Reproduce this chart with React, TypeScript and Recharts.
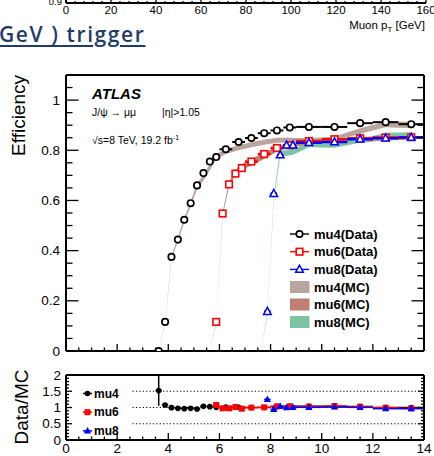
import React from "react";
import { ComposedChart, Area, Scatter, ErrorBar, XAxis, YAxis, ReferenceLine } from "recharts";

const FONT = "'Liberation Sans', Arial, Helvetica, sans-serif";

// ---- efficiency, data points (bin centres, efficiency, half bin width)
const mu4X = [3.625, 3.875, 4.125, 4.375, 4.625, 4.875, 5.125, 5.375, 5.625, 5.875, 6.25, 6.75, 7.25, 7.75, 8.25, 8.75, 9.5, 10.5, 11.5, 12.5, 13.5];
const mu4Eff = [0.0, 0.116, 0.375, 0.444, 0.523, 0.589, 0.66, 0.709, 0.755, 0.773, 0.804, 0.833, 0.849, 0.868, 0.879, 0.891, 0.893, 0.893, 0.908, 0.912, 0.904];
const mu4Half = [0.125, 0.125, 0.125, 0.125, 0.125, 0.125, 0.125, 0.125, 0.125, 0.125, 0.25, 0.25, 0.25, 0.25, 0.25, 0.25, 0.5, 0.5, 0.5, 0.5, 0.5];

const mu6X = [5.875, 6.125, 6.375, 6.625, 6.875, 7.25, 7.75, 8.25, 8.75, 9.5, 10.5, 11.5, 12.5, 13.5];
const mu6Eff = [0.116, 0.548, 0.664, 0.707, 0.729, 0.755, 0.785, 0.809, 0.82, 0.837, 0.844, 0.848, 0.851, 0.852];
const mu6Half = [0.125, 0.125, 0.125, 0.125, 0.125, 0.25, 0.25, 0.25, 0.25, 0.5, 0.5, 0.5, 0.5, 0.5];

const mu8X = [7.875, 8.125, 8.375, 8.625, 8.875, 9.5, 10.5, 11.5, 12.5, 13.5];
const mu8Eff = [0.157, 0.627, 0.781, 0.82, 0.82, 0.83, 0.833, 0.844, 0.848, 0.851];
const mu8Half = [0.125, 0.125, 0.125, 0.125, 0.125, 0.5, 0.5, 0.5, 0.5, 0.5];

// ---- MC bands (low / high edge)
const mu4McX = [3.625, 3.875, 4.125, 4.375, 4.625, 4.875, 5.125, 5.375, 5.625, 5.875, 6.25, 6.75, 7.25, 7.75, 8.25, 8.75, 9.5, 10.5, 11.5, 12.5, 13.5];
const mu4McLo = [0, 0.107, 0.366, 0.437, 0.512, 0.577, 0.645, 0.68, 0.72, 0.765, 0.785, 0.8, 0.812, 0.822, 0.83, 0.832, 0.832, 0.838, 0.866, 0.892, 0.888];
const mu4McHi = [0.002, 0.113, 0.38, 0.453, 0.53, 0.595, 0.67, 0.7, 0.745, 0.785, 0.805, 0.82, 0.832, 0.842, 0.85, 0.85, 0.848, 0.855, 0.888, 0.915, 0.914];

const mu6McX = [5.625, 5.875, 6.125, 6.375, 6.625, 6.875, 7.25, 7.75, 8.25, 8.75, 9.5, 10.5, 11.5, 12.5, 13.5];
const mu6McLo = [0, 0.108, 0.54, 0.655, 0.7, 0.72, 0.74, 0.765, 0.795, 0.812, 0.822, 0.826, 0.83, 0.84, 0.842];
const mu6McHi = [0.002, 0.113, 0.553, 0.675, 0.72, 0.745, 0.765, 0.79, 0.815, 0.83, 0.838, 0.842, 0.846, 0.858, 0.858];

const mu8McX = [7.625, 7.875, 8.125, 8.375, 8.625, 8.875, 9.5, 10.5, 11.5, 12.5, 13.5];
const mu8McLo = [0, 0.14, 0.603, 0.775, 0.778, 0.782, 0.812, 0.81, 0.83, 0.848, 0.852];
const mu8McHi = [0.002, 0.15, 0.622, 0.8, 0.8, 0.805, 0.83, 0.832, 0.845, 0.87, 0.872];

// ---- Data/MC ratio
const mu4Ratio = [1.52, 1.077, 0.995, 0.974, 0.964, 0.974, 0.954, 1.036, 1.026, 1.005, 1.015, 1.005, 1.0, 1.0, 1.03, 1.04, 1.04, 1.03, 1.03, 1.0, 1.0];
const mu4RatioErrLo = [0.47, 0, 0, 0, 0, 0, 0, 0, 0, 0, 0, 0, 0, 0, 0, 0, 0, 0, 0, 0, 0];
const mu4RatioErrHi = [0.46, 0, 0, 0, 0, 0, 0, 0, 0, 0, 0, 0, 0, 0, 0, 0, 0, 0, 0, 0, 0];
const mu6Ratio = [1.077, 0.974, 0.974, 1.015, 0.964, 0.995, 1.005, 1.036, 1.036, 1.026, 1.046, 1.026, 0.995, 0.974];
const mu8Ratio = [1.25, 0.944, 1.036, 0.995, 1.005, 1.005, 1.015, 1.005, 0.964, 0.964];

// ---- ticks
const xMajor = [0, 2, 4, 6, 8, 10, 12, 14];
const effMajor = [0, 0.2, 0.4, 0.6, 0.8, 1];
const ratioMajor = [0, 0.5, 1, 1.5, 2];
const ratioGrid = [0.5, 1, 1.5];
const topMajor = [0, 20, 40, 60, 80, 100, 120, 140, 160];

const range = (a: number, b: number, s: number) => {
  const out: number[] = [];
  for (let v = a; v <= b + 1e-9; v += s) out.push(Math.round(v * 1000) / 1000);
  return out;
};
const xTicks = range(0, 14, 0.5);
const effTicks = range(0, 1.1, 0.05);
const ratioTicks = range(0, 2, 0.1);
const topTicks = range(0, 160, 4);

const pts = (xs: number[], ys: number[], half: number[]) => xs.map((x, i) => ({ x, y: ys[i], ex: half[i] }));
const band = (xs: number[], lo: number[], hi: number[]) => xs.map((x, i) => ({ x, range: [lo[i], hi[i]] }));

const mu4Data = pts(mu4X, mu4Eff, mu4Half);
const mu6Data = pts(mu6X, mu6Eff, mu6Half);
const mu8Data = pts(mu8X, mu8Eff, mu8Half);
const mu4Mc = band(mu4McX, mu4McLo, mu4McHi);
const mu6Mc = band(mu6McX, mu6McLo, mu6McHi);
const mu8Mc = band(mu8McX, mu8McLo, mu8McHi);
const mu4R = mu4X.map((x, i) => ({ x, y: mu4Ratio[i], ex: mu4Half[i], ey: [mu4RatioErrLo[i], mu4RatioErrHi[i]] }));
const mu6R = pts(mu6X, mu6Ratio, mu6Half);
const mu8R = pts(mu8X, mu8Ratio, mu8Half);

const C4 = "#b9a59d";
const C6 = "#c17f74";
const C8 = "#7fc4a2";

const fmt = (v: number) => String(Number(v.toFixed(2)));

type TickOpts = {
  side: "left" | "right" | "top" | "bottom";
  major: number[];
  len: [number, number];
  label?: boolean;
  fontSize?: number;
  gap?: number;
};

const makeTick = (o: TickOpts) => (props: any) => {
  const { x, y, payload } = props;
  const v = payload.value;
  const isMajor = o.major.some((m) => Math.abs(m - v) < 1e-6);
  const L = isMajor ? o.len[0] : o.len[1];
  let line = null;
  if (o.side === "left") line = <line x1={x} x2={x + L} y1={y} y2={y} />;
  if (o.side === "right") line = <line x1={x} x2={x - L} y1={y} y2={y} />;
  if (o.side === "top") line = <line x1={x} x2={x} y1={y} y2={y + L} />;
  if (o.side === "bottom") line = <line x1={x} x2={x} y1={y} y2={y - L} />;
  const gap = o.gap ?? 6;
  const fs = o.fontSize ?? 13;
  let label = null;
  if (o.label && isMajor) {
    if (o.side === "left")
      label = (
        <text x={x - gap} y={y} textAnchor="end" dominantBaseline="central" fontSize={fs} fill="#000" stroke="none" fontFamily={FONT}>
          {fmt(v)}
        </text>
      );
    if (o.side === "bottom")
      label = (
        <text x={x} y={y + gap} textAnchor="middle" dominantBaseline="hanging" fontSize={fs} fill="#000" stroke="none" fontFamily={FONT}>
          {fmt(v)}
        </text>
      );
  }
  return (
    <g stroke="#000" strokeWidth={1.3}>
      {line}
      {label}
    </g>
  );
};

const frame = { stroke: "#000", strokeWidth: 2 };

const OpenCircle = (p: any) => <circle cx={p.cx} cy={p.cy} r={3.2} fill="#fff" stroke="#000" strokeWidth={1.7} />;
const OpenSquare = (p: any) => <rect x={p.cx - 3.3} y={p.cy - 3.3} width={6.6} height={6.6} fill="#fff" stroke="#f00" strokeWidth={1.6} />;
const OpenTri = (p: any) => (
  <polygon points={`${p.cx},${p.cy - 4.2} ${p.cx - 3.8},${p.cy + 2.8} ${p.cx + 3.8},${p.cy + 2.8}`} fill="#fff" stroke="#00f" strokeWidth={1.5} />
);
const FullCircle = (p: any) => <circle cx={p.cx} cy={p.cy} r={2.8} fill="#000" />;
const FullSquare = (p: any) => <rect x={p.cx - 3} y={p.cy - 3} width={6} height={6} fill="#f00" />;
const FullTri = (p: any) => <polygon points={`${p.cx},${p.cy - 4} ${p.cx - 3.6},${p.cy + 2.6} ${p.cx + 3.6},${p.cy + 2.6}`} fill="#00f" />;

function TopStrip() {
  return (
    <ComposedChart width={434} height={22} margin={{ top: 0, right: 8, bottom: 0, left: 26 }} style={{ position: "absolute", left: 0, top: 0 }}>
      <XAxis
        type="number"
        dataKey="x"
        domain={[0, 160]}
        ticks={topTicks}
        interval={0}
        height={19}
        tickSize={0}
        tickMargin={0}
        tickLine={false}
        axisLine={frame}
        allowDataOverflow
        tick={makeTick({ side: "bottom", major: topMajor, len: [4, 2], label: true, fontSize: 11.5, gap: 3 })}
      />
      <YAxis
        type="number"
        domain={[0.9, 1]}
        width={40}
        axisLine={frame}
        tick={false}
        tickLine={false}
        allowDataOverflow
      />
    </ComposedChart>
  );
}

function MainChart() {
  return (
    <ComposedChart width={434} height={362} margin={{ top: 70, right: 0, bottom: 6, left: 26 }} style={{ position: "absolute", left: 0, top: 0 }}>
      <XAxis type="number" dataKey="x" domain={[0, 14]} ticks={xTicks} interval={0} height={5} tickSize={0} tickMargin={0} tickLine={false} axisLine={frame} allowDataOverflow
        tick={makeTick({ side: "bottom", major: xMajor, len: [7, 3.5] })} />
      <XAxis xAxisId="t" orientation="top" type="number" domain={[0, 14]} ticks={xTicks} interval={0} height={5} tickSize={0} tickMargin={0} tickLine={false} axisLine={frame} allowDataOverflow
        tick={makeTick({ side: "top", major: xMajor, len: [7, 3.5] })} />
      <YAxis type="number" domain={[0, 1.1]} ticks={effTicks} interval={0} width={40} tickSize={0} tickMargin={0} tickLine={false} axisLine={frame} allowDataOverflow
        tick={makeTick({ side: "left", major: effMajor, len: [12.5, 6.5], label: true, fontSize: 13.5, gap: 6 })} />
      <YAxis yAxisId="r" orientation="right" type="number" domain={[0, 1.1]} ticks={effTicks} interval={0} width={10} tickSize={0} tickMargin={0} tickLine={false} axisLine={frame} allowDataOverflow
        tick={makeTick({ side: "right", major: effMajor, len: [12.5, 6.5] })} />

      <Area data={mu4Mc} dataKey="range" type="linear" fill={C4} fillOpacity={1} stroke="none" isAnimationActive={false} />
      <Area data={mu6Mc} dataKey="range" type="linear" fill={C6} fillOpacity={1} stroke="none" isAnimationActive={false} />
      <Area data={mu8Mc} dataKey="range" type="linear" fill={C8} fillOpacity={1} stroke="none" isAnimationActive={false} />

      <Scatter data={mu4Data} dataKey="y" shape={OpenCircle} isAnimationActive={false}>
        <ErrorBar dataKey="ex" direction="x" width={0} stroke="#000" strokeWidth={2} />
      </Scatter>
      <Scatter data={mu6Data} dataKey="y" shape={OpenSquare} isAnimationActive={false}>
        <ErrorBar dataKey="ex" direction="x" width={0} stroke="#f00" strokeWidth={2.5} />
      </Scatter>
      <Scatter data={mu8Data} dataKey="y" shape={OpenTri} isAnimationActive={false}>
        <ErrorBar dataKey="ex" direction="x" width={0} stroke="#00f" strokeWidth={2.5} />
      </Scatter>
    </ComposedChart>
  );
}

function RatioChart() {
  return (
    <ComposedChart width={434} height={96} margin={{ top: 10, right: 0, bottom: 0, left: 26 }} style={{ position: "absolute", left: 0, top: 360 }}>
      <XAxis type="number" dataKey="x" domain={[0, 14]} ticks={xTicks} interval={0} height={16} tickSize={0} tickMargin={0} tickLine={false} axisLine={frame} allowDataOverflow
        tick={makeTick({ side: "bottom", major: xMajor, len: [7, 3.5], label: true, fontSize: 13.5, gap: 3 })} />
      <XAxis xAxisId="t" orientation="top" type="number" domain={[0, 14]} ticks={xTicks} interval={0} height={5} tickSize={0} tickMargin={0} tickLine={false} axisLine={frame} allowDataOverflow
        tick={makeTick({ side: "top", major: xMajor, len: [7, 3.5] })} />
      <YAxis type="number" domain={[0, 2]} ticks={ratioTicks} interval={0} width={40} tickSize={0} tickMargin={0} tickLine={false} axisLine={frame} allowDataOverflow
        tick={makeTick({ side: "left", major: ratioMajor, len: [6, 3], label: true, fontSize: 13.5, gap: 5 })} />
      <YAxis yAxisId="r" orientation="right" type="number" domain={[0, 2]} ticks={ratioTicks} interval={0} width={10} tickSize={0} tickMargin={0} tickLine={false} axisLine={frame} allowDataOverflow
        tick={makeTick({ side: "right", major: ratioMajor, len: [6, 3] })} />

      {ratioGrid.map((g) => (
        <ReferenceLine key={g} segment={[{ x: 2.6, y: g }, { x: 14, y: g }]} stroke="#000" strokeWidth={1} strokeDasharray="1.2 2.2" ifOverflow="visible" />
      ))}

      <Scatter data={mu4R} dataKey="y" shape={FullCircle} isAnimationActive={false}>
        <ErrorBar dataKey="ex" direction="x" width={0} stroke="#000" strokeWidth={1.5} />
        <ErrorBar dataKey="ey" direction="y" width={0} stroke="#000" strokeWidth={1.5} />
      </Scatter>
      <Scatter data={mu6R} dataKey="y" shape={FullSquare} isAnimationActive={false}>
        <ErrorBar dataKey="ex" direction="x" width={0} stroke="#f00" strokeWidth={1.5} />
      </Scatter>
      <Scatter data={mu8R} dataKey="y" shape={FullTri} isAnimationActive={false}>
        <ErrorBar dataKey="ex" direction="x" width={0} stroke="#00f" strokeWidth={1.5} />
      </Scatter>
    </ComposedChart>
  );
}

const dataLegend = [
  { label: "mu4(Data)", color: "#000", shape: OpenCircle },
  { label: "mu6(Data)", color: "#f00", shape: OpenSquare },
  { label: "mu8(Data)", color: "#00f", shape: OpenTri },
];
const mcLegend = [
  { label: "mu4(MC)", color: C4 },
  { label: "mu6(MC)", color: C6 },
  { label: "mu8(MC)", color: C8 },
];
const ratioLegend = [
  { label: "mu4", color: "#000", shape: FullCircle },
  { label: "mu6", color: "#f00", shape: FullSquare },
  { label: "mu8", color: "#00f", shape: FullTri },
];

function Overlay() {
  return (
    <svg width={434} height={456} style={{ position: "absolute", left: 0, top: 0, pointerEvents: "none" }} fontFamily={FONT}>
      <text x={62} y={5} textAnchor="end" fontSize={9.5}>0.9</text>
      <text x={425} y={29} textAnchor="end" fontSize={11.5}>
        Muon p<tspan fontSize={8} dy={3}>T</tspan>
        <tspan dy={-3}> [GeV]</tspan>
      </text>

      <text x={25} y={75} transform="rotate(-90 25 75)" textAnchor="end" fontSize={19}>Efficiency</text>
      <text x={28} y={407} transform="rotate(-90 28 407)" textAnchor="middle" fontSize={19}>Data/MC</text>

      <text x={92} y={99} fontSize={15} fontWeight="bold" fontStyle="italic">ATLAS</text>
      <text x={92} y={116} fontSize={10.5}>J/ψ → μμ</text>
      <text x={162} y={116} fontSize={10.5}>|η|&gt;1.05</text>
      <text x={92} y={144} fontSize={10.5}>
        √s=8 TeV, 19.2 fb<tspan fontSize={7} dy={-4}>-1</tspan>
      </text>

      {dataLegend.map((d, i) => {
        const cy = 234 + i * 17.7;
        const S = d.shape;
        return (
          <g key={d.label}>
            <line x1={290} x2={309} y1={cy} y2={cy} stroke={d.color} strokeWidth={1.4} />
            <S cx={299.5} cy={cy} />
            <text x={314} y={cy} dominantBaseline="central" fontSize={13} fontWeight="bold">{d.label}</text>
          </g>
        );
      })}
      {mcLegend.map((d, i) => {
        const cy = 287 + i * 17.5;
        return (
          <g key={d.label}>
            <rect x={290} y={cy - 6} width={19.5} height={12} fill={d.color} />
            <text x={314} y={cy} dominantBaseline="central" fontSize={13} fontWeight="bold">{d.label}</text>
          </g>
        );
      })}

      {ratioLegend.map((d, i) => {
        const cy = 393.5 + i * 18.7;
        const S = d.shape;
        return (
          <g key={d.label}>
            <line x1={83} x2={92} y1={cy} y2={cy} stroke={d.color} strokeWidth={1.5} />
            <S cx={87.5} cy={cy} />
            <text x={94} y={cy} dominantBaseline="central" fontSize={12} fontWeight="bold">{d.label}</text>
          </g>
        );
      })}
    </svg>
  );
}

export default function App() {
  return (
    <div style={{ position: "absolute", left: 0, top: 0, width: 434, height: 456, background: "#fff", overflow: "hidden" }}>
      <TopStrip />
      <div
        style={{
          position: "absolute",
          left: -1,
          top: 24,
          fontFamily: "'Open Sans', sans-serif",
          fontWeight: 600,
          fontSize: 21,
          lineHeight: "21px",
          letterSpacing: 1.6,
          color: "#1f3b6c",
          textDecoration: "underline",
          textDecorationThickness: 2,
          textUnderlineOffset: 3,
          whiteSpace: "nowrap",
        }}
      >
        GeV ) trigger
      </div>
      <MainChart />
      <RatioChart />
      <Overlay />
    </div>
  );
}
